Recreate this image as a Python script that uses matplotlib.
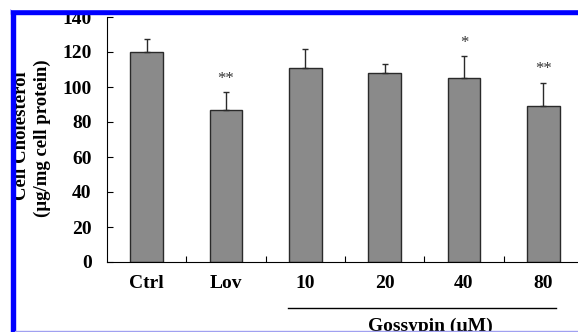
import numpy as np
import matplotlib.pyplot as plt
from matplotlib.patches import Rectangle
import matplotlib.transforms as mtransforms

# datos
groups = ['Ctrl', 'Lov', '10', '20', '40', '80']
means = [120, 87, 111, 108, 105, 89]
err_up = [7.5, 10, 10.5, 5, 12.5, 13.5]
stars = ['', '**', '', '', '*', '**']

plt.rcParams['font.family'] = ['Liberation Serif', 'DejaVu Serif']
plt.rcParams['font.weight'] = 'bold'

W, H = 578, 332
fig = plt.figure(figsize=(W / 100, H / 100), dpi=100)
fig.patch.set_facecolor('white')

# ejes: x=107..583 px, y=17..262 px
ax = fig.add_axes([107 / W, (H - 262) / H, (583 - 107) / W, (262 - 17) / H])
x = np.arange(len(groups))
ax.bar(x, means, width=0.41, color='#8a8a8a', edgecolor='#2a2a2a', linewidth=1.0, zorder=2)
ax.errorbar(x, means, yerr=[np.zeros(len(means)), err_up], fmt='none',
            ecolor='#2a2a2a', elinewidth=1.0, capsize=2.5, capthick=1.0, zorder=3)

for xi, m, e, s in zip(x, means, err_up, stars):
    if s:
        ax.text(xi, m + e + 3, s, ha='center', va='bottom', fontsize=12,
                fontweight='normal', color='#333333')

ax.set_xlim(-0.5, 5.5)
ax.set_ylim(0, 140)
ax.set_yticks(np.arange(0, 141, 20))
ax.tick_params(axis='y', direction='in', length=4, labelsize=14, pad=11, width=0.8)
ax.set_xticks(x)
ax.set_xticklabels(groups)
ax.tick_params(axis='x', which='major', length=0, labelsize=14, pad=9)
ax.set_xticks(x[:-1] + 0.5, minor=True)
ax.tick_params(axis='x', which='minor', direction='in', length=4, width=0.8)
for lab in ax.get_xticklabels() + ax.get_yticklabels():
    lab.set_fontweight('bold')

ax.spines['top'].set_visible(False)
ax.spines['right'].set_visible(False)
ax.spines['left'].set_linewidth(0.8)
ax.spines['bottom'].set_linewidth(0.8)

# etiqueta del eje y (dos lineas)
fig.text(22 / W, 1 - 136 / H, 'Cell Cholesterol', rotation=90, ha='center', va='center',
         fontsize=13.5, fontweight='bold')
fig.text(42 / W, 1 - 138 / H, '(µg/mg cell protein)', rotation=90, ha='center', va='center',
         fontsize=13.5, fontweight='bold')

# linea y texto de Gossypin
trans = mtransforms.blended_transform_factory(ax.transData, ax.transAxes)
ax.plot([1.78, 5.16], [-0.188, -0.188], color='black', lw=1.0, transform=trans, clip_on=False)
ax.text(3.57, -0.228, 'Gossypin (µM)', ha='center', va='top', fontsize=14,
        fontweight='bold', transform=trans)

# marco azul
fig.patches.append(Rectangle((11 / W, 0), 4 / W, 1 - 9 / H, transform=fig.transFigure,
                             color='#0000ff', zorder=10))
fig.patches.append(Rectangle((11 / W, 1 - 14 / H), 1, 5 / H, transform=fig.transFigure,
                             color='#0000ff', zorder=10))
fig.patches.append(Rectangle((11 / W, 1 - 9 / H), 1, 9 / H, transform=fig.transFigure,
                             color='white', zorder=10))
fig.patches.append(Rectangle((15 / W, 0), 1, 1.5 / H, transform=fig.transFigure,
                             color='#a0a0f0', zorder=10))

fig.savefig('out.png', dpi=100)
